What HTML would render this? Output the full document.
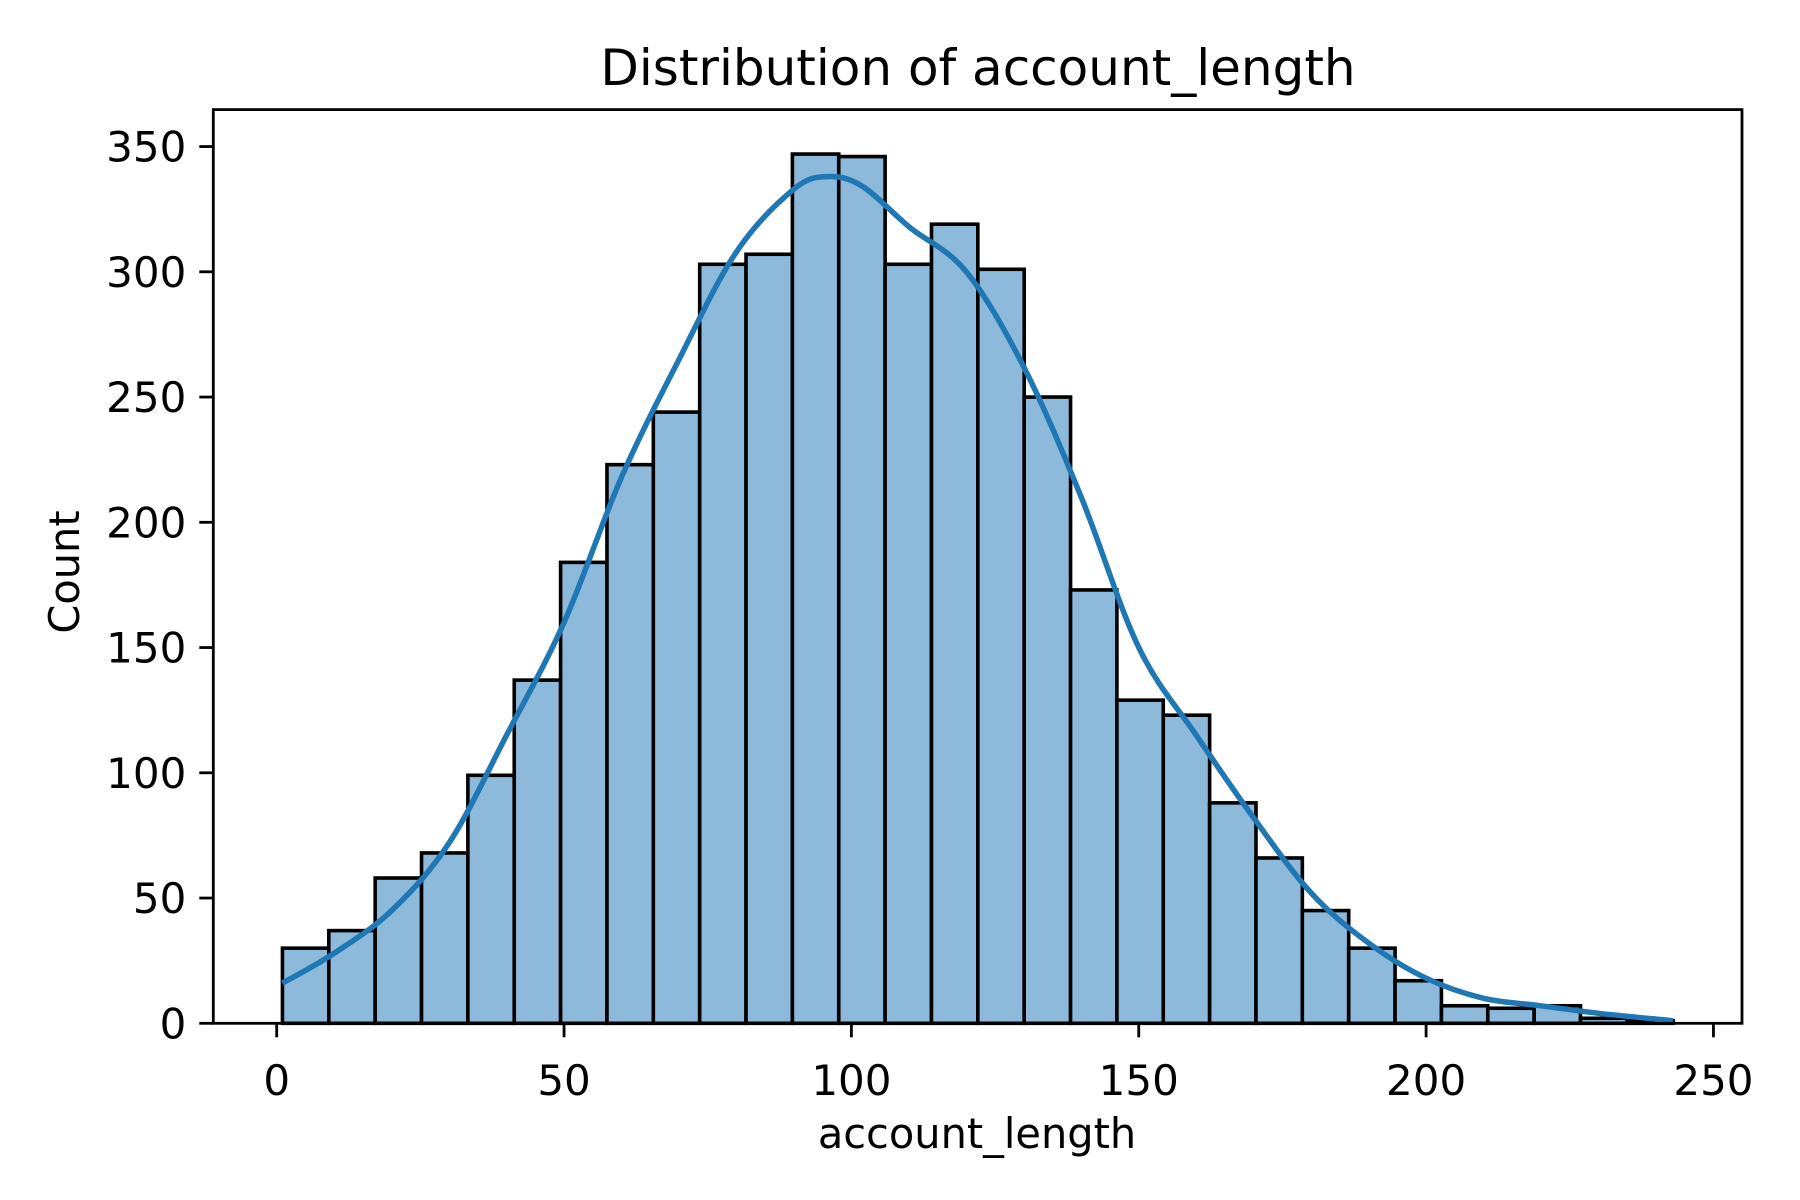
<!DOCTYPE html>
<html><head><meta charset="utf-8"><style>
html,body{margin:0;padding:0;background:#fff;}
svg{display:block;font-family:"DejaVu Sans","Liberation Sans",sans-serif;}
</style></head><body>
<svg id="chart" width="1800" height="1200" viewBox="0 0 1800 1200">
<rect width="1800" height="1200" fill="#fff"/>
<text x="978" y="85" font-size="50" text-anchor="middle">Distribution of account_length</text>
<g id="bars"></g>
<g id="kde"></g>
<g id="axes"></g>
<text x="977" y="1148" font-size="41.5" text-anchor="middle">account_length</text>
<text x="0" y="0" font-size="41.5" text-anchor="middle" transform="translate(79,572) rotate(-90)">Count</text>
</svg>
<script>
const binStart = 1;
const binEnd = 243;
const counts = [30,37,58,68,99,137,184,223,244,303,307,347,346,303,319,301,250,173,129,123,88,66,45,30,17,7,6,7,2,1];
const kdeX = [1,10,20,30,40,50,60,70,80,90,96,102,110,120,130,140,150,160,170,180,190,200,210,220,230,243];
const kdeY = [16,28,45,72,115,160,218,265,308,333,338,334,318,300,262,210,150,115,82,52,32,18,10,7,4,1];
const xTicks = [0,50,100,150,200,250];
const yTicks = [0,50,100,150,200,250,300,350];

const L=213.3,R=1742,T=109.6,B=1023.3;
const xs = v => 276.7 + v*5.747;
const ys = v => B - v*2.505;
const NS="http://www.w3.org/2000/svg";
function mk(tag,attrs,parent){const e=document.createElementNS(NS,tag);for(const k in attrs)e.setAttribute(k,attrs[k]);parent.appendChild(e);return e;}
const bars=document.getElementById('bars');
const w=(binEnd-binStart)/counts.length;
counts.forEach((c,i)=>{
  const x0=xs(binStart+i*w),x1=xs(binStart+(i+1)*w);
  const r=mk('rect',{x:x0,y:ys(c),width:x1-x0,height:B-ys(c),fill:'#8db9da',stroke:'#000','stroke-width':3.6},bars);
  
  
});
const kde=document.getElementById('kde');
const pts=kdeX.map((x,i)=>[xs(x),ys(kdeY[i])]);
let d='M'+pts[0][0].toFixed(1)+','+pts[0][1].toFixed(1);
for(let i=0;i<pts.length-1;i++){
  const p0=pts[Math.max(0,i-1)],p1=pts[i],p2=pts[i+1],p3=pts[Math.min(pts.length-1,i+2)];
  const c1=[p1[0]+(p2[0]-p0[0])/6,p1[1]+(p2[1]-p0[1])/6];
  const c2=[p2[0]-(p3[0]-p1[0])/6,p2[1]-(p3[1]-p1[1])/6];
  d+='C'+c1[0].toFixed(1)+','+c1[1].toFixed(1)+' '+c2[0].toFixed(1)+','+c2[1].toFixed(1)+' '+p2[0].toFixed(1)+','+p2[1].toFixed(1);
}
const p=mk('path',{d:d,fill:'none',stroke:'#1f77b4','stroke-width':5.5,'stroke-linejoin':'round','stroke-linecap':'butt'},kde);


const ax=document.getElementById('axes');
const fr=mk('rect',{x:L,y:T,width:R-L,height:B-T,fill:'none',stroke:'#000','stroke-width':2.8},ax);


xTicks.forEach(t=>{
  const x=xs(t);
  mk('line',{x1:x,x2:x,y1:B,y2:B+14,stroke:'#000','stroke-width':2.8},ax);
  const tx=mk('text',{x:x,y:1095,'font-size':42,'text-anchor':'middle'},ax);
  tx.textContent=t;
  
  
});
yTicks.forEach(t=>{
  const y=ys(t);
  mk('line',{x1:L-14,x2:L,y1:y,y2:y,stroke:'#000','stroke-width':2.8},ax);
  const tx=mk('text',{x:L-27,y:y+15,'font-size':42,'text-anchor':'end'},ax);
  tx.textContent=t;
  
  
});
</script>
</body></html>
